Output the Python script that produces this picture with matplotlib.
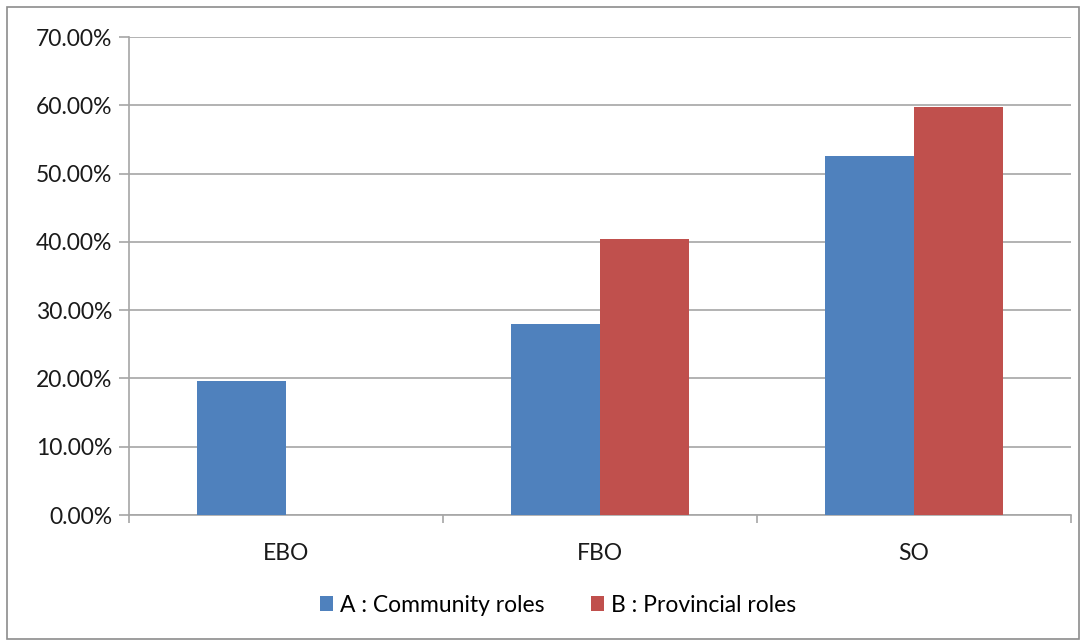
import numpy as np
import matplotlib.pyplot as plt
from matplotlib.patches import Rectangle

categories = ['EBO', 'FBO', 'SO']
community = [19.6, 28.0, 52.6]
provincial = [0.0, 40.4, 59.7]
series_names = ['A : Community roles', 'B : Provincial roles']
yticks = [0, 10, 20, 30, 40, 50, 60, 70]

plt.rcParams['font.family'] = ['Lato', 'DejaVu Sans']

W, H = 1086, 644
fig = plt.figure(figsize=(W / 100, H / 100), dpi=100)
ax = fig.add_axes([129 / W, 1 - 515 / H, (1071 - 129) / W, (515 - 37) / H])

blue = '#4f81bd'
red = '#c0504d'
grid = '#a6a6a6'
fs = 16.5

x = np.arange(len(categories))
w = 0.284
ax.bar(x - w / 2, community, w, color=blue, label=series_names[0], zorder=3)
ax.bar(x + w / 2, provincial, w, color=red, label=series_names[1], zorder=3)

ax.set_xlim(-0.5, len(categories) - 0.5)
ax.set_ylim(0, 70)
ax.set_yticks(yticks)
ax.set_yticklabels([f'{v:.2f}%' for v in yticks], fontsize=fs, color='#1a1a1a')
ax.yaxis.grid(True, color=grid, linewidth=1.2, zorder=0)

ax.set_xticks(np.arange(-0.5, len(categories), 1.0))
ax.set_xticklabels([])
ax.set_xticks(x, minor=True)
ax.set_xticklabels(categories, minor=True, fontsize=fs, color='#1a1a1a')
ax.tick_params(axis='x', which='major', length=6, color=grid, width=1.2)
ax.tick_params(axis='x', which='minor', length=0, pad=20)
ax.tick_params(axis='y', length=7, color=grid, width=1.2, pad=5)

for s in ['top', 'right']:
    ax.spines[s].set_visible(False)
for s in ['left', 'bottom']:
    ax.spines[s].set_color(grid)
    ax.spines[s].set_linewidth(1.2)

fig.legend(loc='center', bbox_to_anchor=(558 / W, 1 - 605 / H), ncol=2, frameon=False,
           fontsize=fs, handlelength=0.6, handleheight=0.6, handletextpad=0.3,
           columnspacing=2.0)

fig.patches.append(Rectangle((7 / W, 5 / H), (1079 - 7) / W, (637 - 5) / H,
                             transform=fig.transFigure, fill=False,
                             edgecolor='#8c8c8c', linewidth=1.2))

fig.savefig('out.png', dpi=100)
